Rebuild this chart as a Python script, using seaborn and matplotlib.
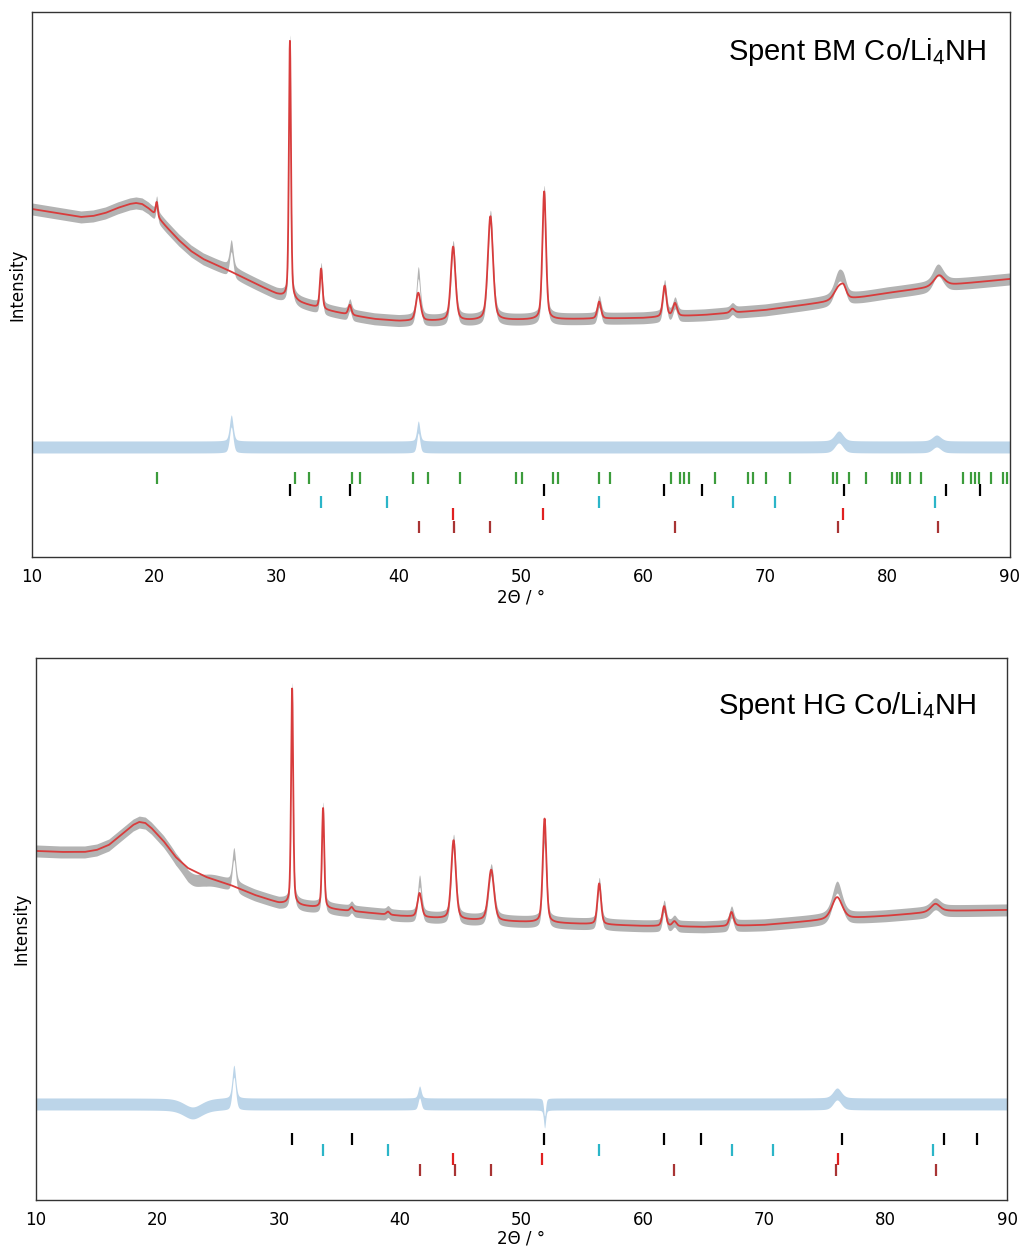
import numpy as np
import pandas as pd
import matplotlib.pyplot as plt
import seaborn as sns

# --- background levels (2theta, intensity) ---
bm_bg_x = [10, 12, 14, 15, 16, 17, 18, 18.5, 19, 19.5, 20.2, 21, 22, 23, 24, 26, 28, 30,
           32, 34, 36, 38, 40, 45, 50, 55, 60, 65, 70, 75, 78, 80, 85, 90]
bm_bg_y = [348, 344, 340, 341, 344, 349, 353, 354, 353, 349, 341, 330, 317, 306, 298, 287,
           275, 263, 254, 247, 242, 238, 236, 236, 237, 238, 239, 242, 247, 255, 260, 264, 272, 278]

hg_bg_x = [10, 12, 14, 15, 16, 17, 18, 18.5, 19, 19.5, 20.5, 21.5, 22.5, 24, 26, 28, 30, 32, 35,
           40, 45, 50, 55, 60, 65, 70, 75, 80, 85, 90]
hg_bg_y = [349, 348, 348, 350, 355, 365, 375, 378, 377, 372, 359, 343, 332, 323, 315, 305,
           297, 294, 290, 284, 280, 278, 276, 274, 273, 275, 280, 284, 289, 290]

# --- fitted reflections (position, height, fwhm) ---
bm_pk_pos = [20.2, 31.1, 33.65, 36.0, 41.6, 44.45, 47.5, 51.9, 56.4, 61.75, 62.6, 67.3, 76.0, 76.4, 84.2]
bm_pk_h = [14, 258, 40, 10, 28, 74, 104, 128, 17, 31, 13, 4, 13, 8, 11]
bm_pk_w = [0.2, 0.2, 0.25, 0.3, 0.45, 0.45, 0.5, 0.35, 0.35, 0.35, 0.4, 0.4, 0.9, 0.5, 1.0]

hg_pk_pos = [31.1, 33.65, 36.0, 39.0, 41.6, 44.4, 47.5, 51.9, 56.4, 61.75, 62.6, 67.3, 76.0, 84.1]
hg_pk_h = [216, 100, 4, 3, 24, 79, 51, 104, 41, 20, 5, 14, 22, 8]
hg_pk_w = [0.2, 0.22, 0.3, 0.3, 0.4, 0.45, 0.55, 0.35, 0.35, 0.35, 0.4, 0.4, 1.0, 0.9]

# --- unfitted features (show up in observed and difference) ---
bm_ex_pos = [26.3, 41.6, 76.0, 84.0]
bm_ex_h = [26, 20, 10, 6]
bm_ex_w = [0.35, 0.3, 0.8, 0.8]

hg_ex_pos = [22.9, 26.3, 41.6, 51.9, 76.0]
hg_ex_h = [-9, 33, 12, -18, 10]
hg_ex_w = [1.8, 0.35, 0.3, 0.2, 0.8]

# --- phase reflection markers ---
green_pos = [20.25, 31.5, 32.7, 36.2, 36.8, 41.17, 42.37, 44.98, 49.6, 50.06, 52.6, 53.0,
             56.38, 57.3, 62.27, 62.98, 63.33, 63.72, 65.87, 68.54, 69.0, 70.06, 71.98,
             75.5, 75.87, 76.86, 78.25, 80.32, 80.73, 81.0, 81.82, 82.69, 86.13, 86.78,
             87.14, 87.44, 88.45, 89.4, 89.73]
black_pos = [31.08, 36.0, 51.88, 61.74, 64.8, 76.44, 84.8, 87.55]
cyan_pos = [33.63, 39.03, 56.42, 67.31, 70.75, 83.9]
bm_red_pos = [44.41, 51.77, 76.31]
hg_red_pos = [44.33, 51.66, 76.1]
darkred_pos = [41.62, 44.5, 47.46, 62.58, 75.95, 84.15]

x = np.arange(10, 90.001, 0.01)


def peaks(pos, h, w):
    out = np.zeros_like(x)
    for p, a, fw in zip(pos, h, w):
        g = np.exp(-4 * np.log(2) * ((x - p) / fw) ** 2)
        l = 1 / (1 + 4 * ((x - p) / fw) ** 2)
        out += a * (0.6 * g + 0.4 * l)
    return out


def panel(ax, bg_x, bg_y, pk, ex, diff_base, ticks, title, title_xy, ylim, xpad):
    calc = np.interp(x, bg_x, bg_y) + peaks(*pk)
    extra = peaks(*ex)
    obs = calc + extra
    diff = diff_base + extra
    df = pd.DataFrame({'x': x, 'calc': calc, 'diff': diff})

    # observed / difference drawn as bands the width of the noise
    ax.fill_between(x, obs - 6, obs + 6, color='#b3b3b3', lw=0)
    ax.fill_between(x, diff - 6, diff + 6, color='#bcd5e9', lw=0)
    sns.lineplot(data=df, x='x', y='calc', ax=ax, color='#d83c3c', lw=1.3, estimator=None)

    for pos, yy, col in ticks:
        ax.plot(pos, [yy] * len(pos), ls='none', marker='|', ms=9, mew=1.6, color=col)

    ax.text(title_xy[0], title_xy[1], title, transform=ax.transAxes, ha='right', va='center',
            fontsize=21, family='Liberation Sans', color='black')
    ax.set_xlim(10, 90)
    ax.set_ylim(*ylim)
    ax.set_yticks([])
    ax.set_xticks(range(10, 91, 10))
    ax.tick_params(axis='x', labelsize=12, length=5, pad=3, color='#333333', labelcolor='black')
    ax.set_xlabel('2Θ / °', fontsize=12, labelpad=xpad, color='black')
    ax.set_ylabel('Intensity', fontsize=12, labelpad=4, color='black')
    for s in ax.spines.values():
        s.set_color('#333333')
        s.set_linewidth(1)


sns.set_style('white')
fig = plt.figure(figsize=(10.24, 12.48), dpi=100)
ax1 = fig.add_axes([0.03125, 0.5537, 0.955, 0.4367])
ax2 = fig.add_axes([0.0352, 0.0385, 0.9482, 0.4343])

panel(ax1, bm_bg_x, bm_bg_y, (bm_pk_pos, bm_pk_h, bm_pk_w), (bm_ex_pos, bm_ex_h, bm_ex_w), 110,
      [(green_pos, 79, '#3c9c3c'), (black_pos, 67, 'black'), (cyan_pos, 55, '#2bb5c8'),
       (bm_red_pos, 43, '#e02020'), (darkred_pos, 30, '#a83434')],
      'Spent BM Co/Li$_\\mathregular{4}$NH', (0.976, 0.927), (0, 545), 2)

panel(ax2, hg_bg_x, hg_bg_y, (hg_pk_pos, hg_pk_h, hg_pk_w), (hg_ex_pos, hg_ex_h, hg_ex_w), 96,
      [(black_pos, 61, 'black'), (cyan_pos, 50, '#2bb5c8'),
       (hg_red_pos, 41, '#e02020'), (darkred_pos, 30, '#a83434')],
      'Spent HG Co/Li$_\\mathregular{4}$NH', (0.968, 0.911), (0, 542), 0)

fig.savefig('out.png', dpi=100)
